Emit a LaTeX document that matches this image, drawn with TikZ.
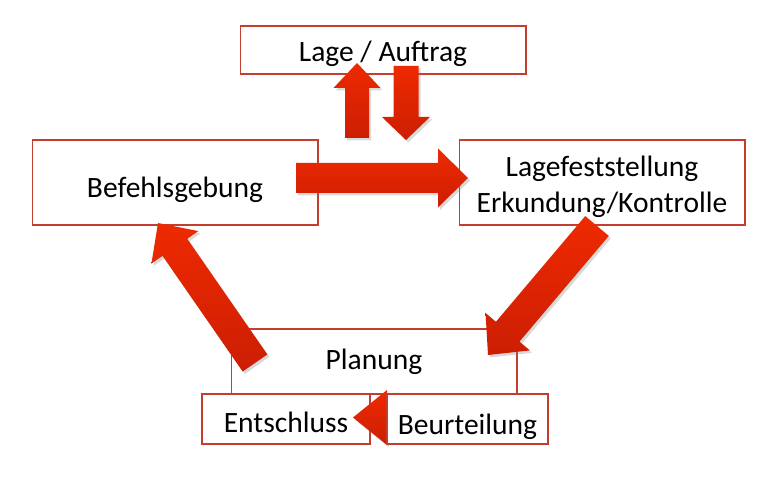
\documentclass[tikz,border=0pt]{standalone}
\usepackage{fontspec}
\setmainfont{Carlito}
\usetikzlibrary{calc, shadows, positioning}
\definecolor{boxred}{RGB}{196,62,48}
\definecolor{arrowlight}{RGB}{238,42,0}
\definecolor{arrowdark}{RGB}{204,30,4}

% block arrow: from, to, half shaft width, half head width, head length (px)
\newcommand{\redarrow}[5]{%
  \coordinate (ah) at ($(#2)!#5*0.02cm!(#1)$);
  \path[arrowfill] ($(#1)!#3*0.02cm!90:(#2)$) -- ($(ah)!#3*0.02cm!90:(#2)$)
    -- ($(ah)!#4*0.02cm!90:(#2)$) -- (#2) -- ($(ah)!#4*0.02cm!-90:(#2)$)
    -- ($(ah)!#3*0.02cm!-90:(#2)$) -- ($(#1)!#3*0.02cm!-90:(#2)$) -- cycle;
}
% move text inside a box without changing its size
\newcommand{\shifttext}[2]{\raisebox{#1}[\height][\depth]{#2}}

\begin{document}
\begin{tikzpicture}[x=0.02cm, y=-0.02cm, font=\fontsize{16.8}{20}\selectfont,
  box/.style={draw=boxred, line width=0.6pt, fill=white, inner sep=0pt,
              minimum width=5.72cm, align=center},
  arrowfill/.style={top color=arrowlight, bottom color=arrowdark,
              drop shadow={opacity=0.3, shadow xshift=1.2pt, shadow yshift=-1.4pt}}]
  \useasboundingbox (0,0) rectangle (783,479);

  % Planung
  \node[box, minimum height=1.3cm] (plan) at (374,361.5) {Planung};
  \node[box, minimum width=3.36cm, minimum height=1cm] (entschluss) at (286,419)
    {\shifttext{-1.7pt}{Entschluss}};
  \coordinate (beurtR) at (420,417.5);
  \coordinate (entschlR) at (353,417.5);
  \redarrow{beurtR}{entschlR}{15}{27.5}{34}
  \node[box, minimum width=3.22cm, minimum height=1cm] (beurteilung) at (467.5,419)
    {\shifttext{-4.3pt}{Beurteilung}};

  % obere Kaestchen
  \node[box, minimum height=0.96cm] (lage) at (383,50) {\shifttext{-2.3pt}{Lage / Auftrag}};
  \node[box, minimum height=1.7cm] (befehl) at (175,182.5) {\shifttext{-4pt}{Befehlsgebung}};
  \node[box, minimum height=1.7cm] (fest) at (602,182.5)
    {\shifttext{-2.8pt}{\begin{tabular}{@{}c@{}}Lagefeststellung\\Erkundung/Kontrolle\end{tabular}}};

  % Pfeile
  \coordinate (upA) at (357,138);  \coordinate (upB) at (357,63);
  \coordinate (dnA) at (406,66);   \coordinate (dnB) at (406,140);
  \coordinate (reA) at (296,178);  \coordinate (reB) at (468,178);
  \coordinate (dlA) at (597,226);  \coordinate (dlB) at (488,355);
  \coordinate (ulA) at (255,363);  \coordinate (ulB) at (158,223);
  \foreach \a/\b/\s/\w/\l in {upA/upB/12/23.5/25, dnA/dnB/12.5/24/23,
      reA/reB/15/29.5/30, dlA/dlB/15.4/29/30.5, ulA/ulB/15/28.5/29.6}
    {\redarrow{\a}{\b}{\s}{\w}{\l}}
\end{tikzpicture}
\end{document}
